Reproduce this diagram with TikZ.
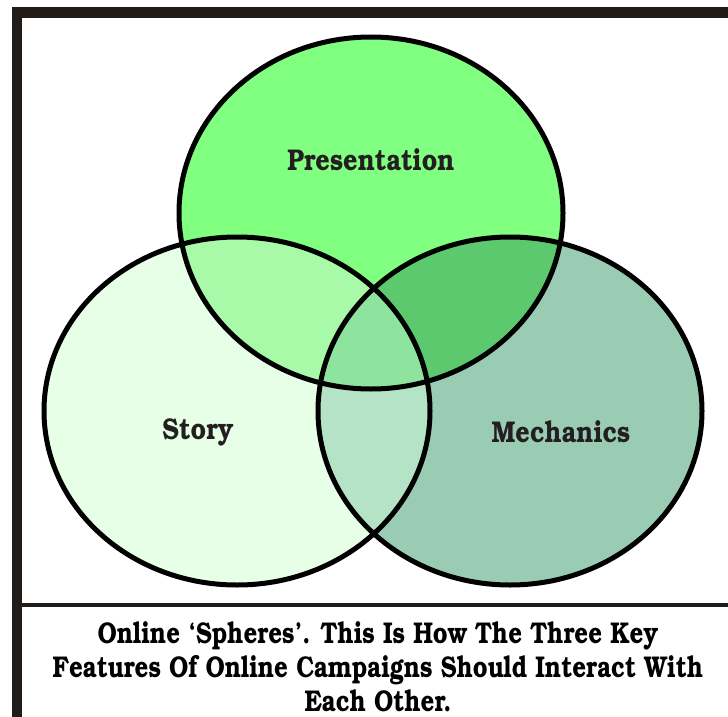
\documentclass[tikz,border=0pt]{standalone}
\usepackage[T1,TU]{fontenc}
\tikzset{>=latex}
\definecolor{framegray}{HTML}{201C19}
\definecolor{inkgray}{HTML}{231F20}
\definecolor{presfill}{HTML}{80FF80}
\definecolor{storyfill}{HTML}{E6FFE6}
\definecolor{mechfill}{HTML}{9ACCB4}
\definecolor{presstory}{HTML}{A8FAA8}
\definecolor{presmech}{HTML}{5CC96E}
\definecolor{storymech}{HTML}{B4E3C6}
\definecolor{allthree}{HTML}{8EE49F}
\newcommand*{\slabfont}{\fontencoding{T1}\fontfamily{pbk}\fontseries{b}\selectfont}
\newcommand*{\narrow}[1]{\scalebox{0.84}[1]{#1}}
\newcommand*{\capline}[1]{\scalebox{0.80}[1]{#1}}
\newcommand*{\presoval}{(371,213) ellipse [x radius=192, y radius=176]}
\newcommand*{\storyoval}{(237,411) ellipse [x radius=193, y radius=174]}
\newcommand*{\mechoval}{(510,411) ellipse [x radius=192, y radius=174]}

\begin{document}
\begin{tikzpicture}[x=1pt, y=-1pt,
        sphere/.style={draw=black, line width=5pt},
        tag/.style={text=inkgray, font=\slabfont\fontsize{30}{34}\selectfont}]
    \useasboundingbox (0,0) rectangle (728,717);
    % frame on top and left, rule above the caption
    \fill[framegray] (12,7) rectangle (728,18);
    \fill[framegray] (12,7) rectangle (22,717);
    \coordinate (ruleL) at (22,605);
    \coordinate (ruleR) at (728,605);
    \draw[framegray, line width=3.3pt] (ruleL) -- (ruleR);
    % the three spheres
    \fill[storyfill] \storyoval;
    \fill[mechfill] \mechoval;
    \fill[presfill] \presoval;
    % overlaps
    \begin{scope}
        \clip \presoval;
        \fill[presstory] \storyoval;
        \fill[presmech] \mechoval;
    \end{scope}
    \begin{scope}
        \clip \storyoval;
        \fill[storymech] \mechoval;
        \clip \mechoval;
        \fill[allthree] \presoval;
    \end{scope}
    \draw[sphere] \storyoval;
    \draw[sphere] \mechoval;
    \draw[sphere] \presoval;
    % labels
    \node[tag] (pres) at (371,160) {\narrow{Presentation}};
    \node[tag] (story) at (198,432) {\narrow{Story}};
    \node[tag] (mech) at (561,432) {\narrow{Mechanics}};
    \node[tag, align=center, text=black] (caption) at (378,667)
        {\capline{Online `Spheres'. This Is How The Three Key}\\
         \capline{Features Of Online Campaigns Should Interact With}\\
         \capline{Each Other.}};
\end{tikzpicture}
\end{document}
